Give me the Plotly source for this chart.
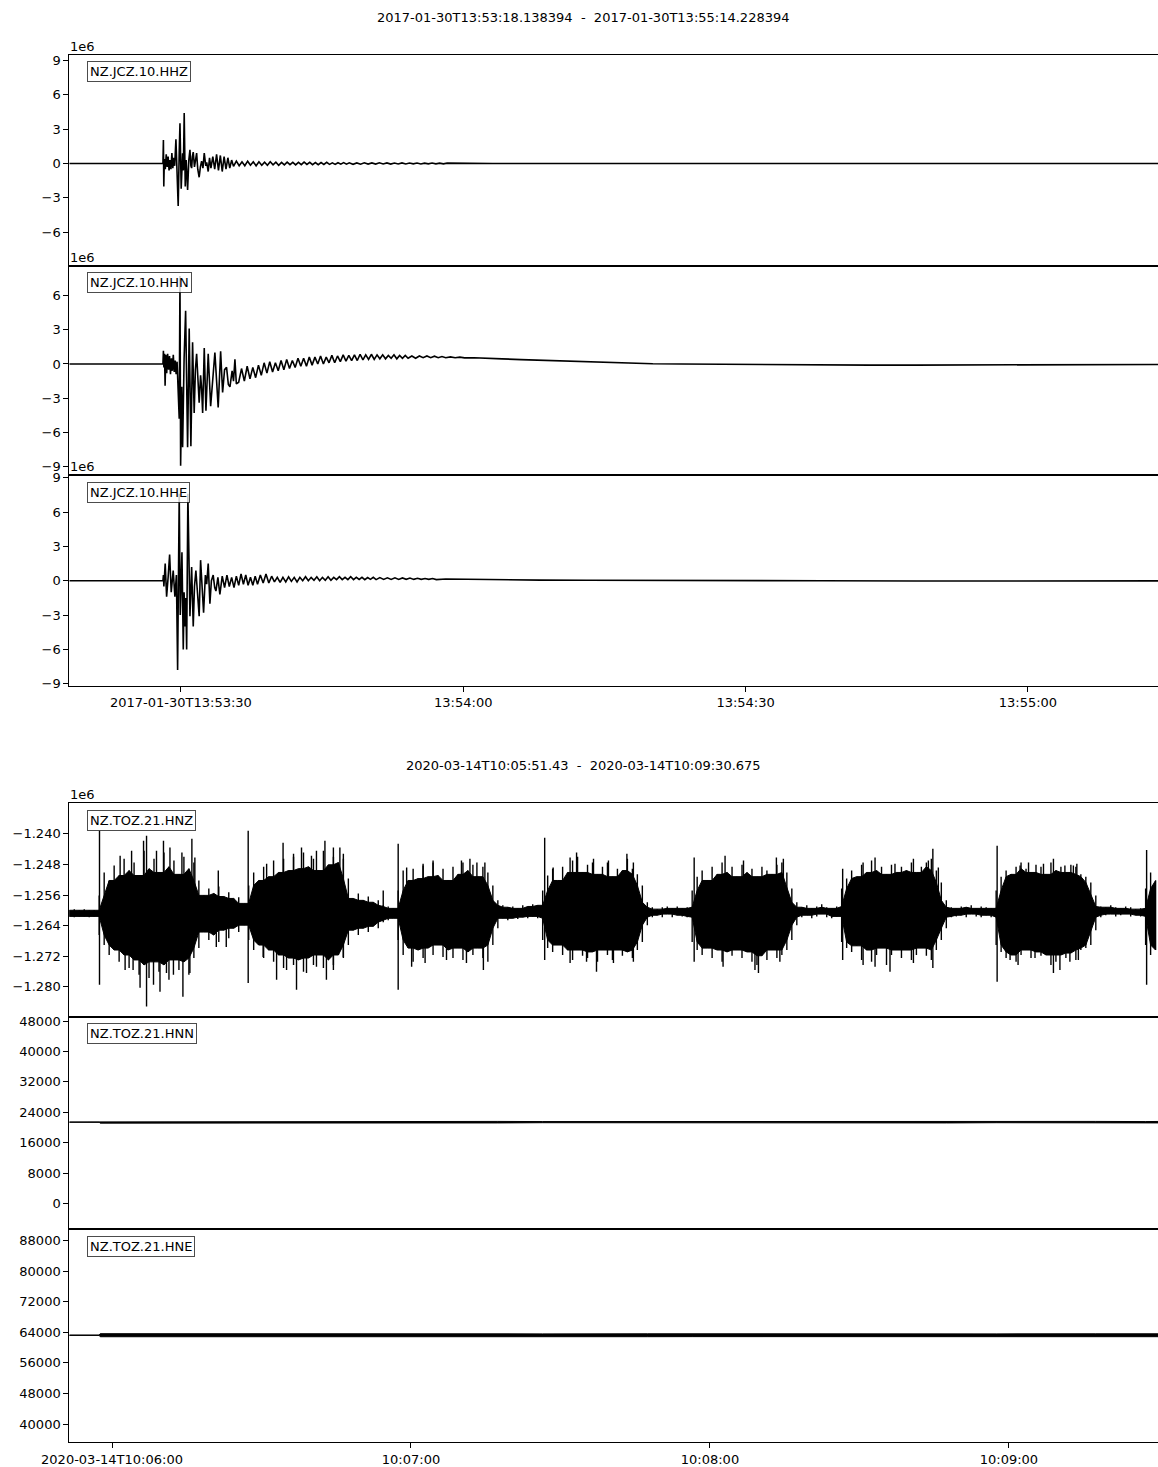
import numpy as np
import pandas as pd
import plotly.graph_objects as go
from datetime import datetime, timedelta

W, H = 1158, 1467

# ---------------- data ----------------
T0_TOP = datetime(2017, 1, 30, 13, 53, 18, 138394)
T0_BOT = datetime(2020, 3, 14, 10, 5, 51, 430000)
TOP_TITLE = "2017-01-30T13:53:18.138394  -  2017-01-30T13:55:14.228394"
BOT_TITLE = "2020-03-14T10:05:51.43  -  2020-03-14T10:09:30.675"
TOP_LABELS = ["NZ.JCZ.10.HHZ", "NZ.JCZ.10.HHN", "NZ.JCZ.10.HHE"]
BOT_LABELS = ["NZ.TOZ.21.HNZ", "NZ.TOZ.21.HNN", "NZ.TOZ.21.HNE"]

TOP_XTICKS = [datetime(2017, 1, 30, 13, 53, 30), datetime(2017, 1, 30, 13, 54, 0),
              datetime(2017, 1, 30, 13, 54, 30), datetime(2017, 1, 30, 13, 55, 0)]
TOP_XTEXT = ["2017-01-30T13:53:30", "13:54:00", "13:54:30", "13:55:00"]
BOT_XTICKS = [datetime(2020, 3, 14, 10, 6, 0), datetime(2020, 3, 14, 10, 7, 0),
              datetime(2020, 3, 14, 10, 8, 0), datetime(2020, 3, 14, 10, 9, 0)]
BOT_XTEXT = ["2020-03-14T10:06:00", "10:07:00", "10:08:00", "10:09:00"]

# JCZ traces: seconds after T0_TOP, amplitude in units of 1e6 counts
HHZ_T = [0, 9.95, 10.0, 10.04, 10.1, 10.2, 10.3, 10.4, 10.5, 10.6, 10.7, 10.8, 10.9, 11.0, 11.1, 11.2,
         11.33, 11.45, 11.57, 11.68, 11.76, 11.89, 12.0, 12.04, 12.12, 12.21, 12.32, 12.42, 12.5, 12.57,
         12.7, 12.82, 12.92, 13.0, 13.08, 13.17, 13.3, 13.4, 13.53, 13.65, 13.8, 13.93, 14.06, 14.2, 14.34,
         14.5, 14.6, 14.76, 14.9, 15.05, 15.25, 15.45, 15.65, 15.85, 16.05, 16.25, 16.45, 16.65, 16.85,
         17.05, 17.25, 17.45, 17.75, 18.05, 18.35, 18.65, 18.95, 19.25, 19.55, 19.85, 20.15, 20.45, 20.75,
         21.05, 21.35, 21.65, 21.95, 22.25, 22.55, 22.85, 23.15, 23.45, 23.75, 24.05, 24.35, 24.65, 24.95,
         25.25, 25.55, 25.85, 26.15, 26.45, 26.75, 27.05, 27.35, 27.65, 27.95, 28.25, 28.55, 28.85, 29.15,
         29.45, 29.75, 30.15, 30.55, 30.95, 31.35, 31.75, 32.15, 32.55, 32.95, 33.35, 33.75, 34.15, 34.55,
         34.95, 35.35, 35.75, 36.15, 36.55, 36.95, 37.35, 37.75, 38.15, 38.55, 38.95, 39.35, 39.75, 40.15,
         45.0, 116.1]
HHZ_V = [0, 0, 2.05, -2.0, 0.4, -0.5, 0.8, -0.3, 0.6, -0.6, 0.3, -0.5, 0.9, -0.4, 0.5, -0.2,
         2.1, -0.5, -3.7, 1.0, 3.5, -2.2, 0.2, 0.9, -0.6, 4.4, -2.0, 0.3, -1.0, -2.3,
         0.3, 1.2, -0.2, -0.4, 0.6, 1.0, -0.3, 0.2, 0.9, -0.5, -1.2, -0.3, 0.2, -0.4, 0.9,
         -0.2, 0.1, -0.7, 0.5, -0.4, 0.6, -0.5, 0.8, -0.6, 0.7, -0.7, 0.6, -0.5, 0.5,
         -0.4, 0.3, -0.25, 0.2, -0.2, 0.15, -0.2, 0.2, -0.15, 0.15, -0.2, 0.15, -0.15, 0.12,
         -0.15, 0.15, -0.12, 0.12, -0.15, 0.1, -0.12, 0.12, -0.1, 0.1, -0.12, 0.1, -0.1, 0.12,
         -0.08, 0.1, -0.1, 0.08, -0.1, 0.08, -0.08, 0.1, -0.08, 0.06, -0.08, 0.07, -0.06, 0.08,
         -0.06, 0.06, -0.07, 0.05, -0.06, 0.06, -0.05, 0.05, -0.05, 0.06, -0.04, 0.05, -0.05, 0.04,
         -0.04, 0.05, -0.04, 0.04, -0.03, 0.04, -0.04, 0.03, -0.03, 0.04, -0.03, 0.03, -0.03, 0.03,
         0.0, 0.0]

HHN_T = [0, 9.95, 10.0, 10.05, 10.12, 10.18, 10.26, 10.35, 10.45, 10.55, 10.65, 10.75, 10.85, 10.95,
         11.05, 11.15, 11.25, 11.35, 11.45, 11.55, 11.68, 11.76, 11.83, 11.95, 12.04, 12.2, 12.36, 12.57,
         12.74, 12.92, 13.1, 13.27, 13.4, 13.53, 13.8, 13.95, 14.05, 14.17, 14.34, 14.52, 14.76, 15.02,
         15.25, 15.47, 15.82, 16.08, 16.29, 16.5, 16.71, 16.9, 17.07, 17.3, 17.45, 17.6, 17.75,
         18.0, 18.3, 18.6, 18.9, 19.2, 19.5, 19.8, 20.1, 20.4, 20.7, 21.0, 21.3, 21.6, 21.9, 22.2, 22.5,
         22.8, 23.1, 23.4, 23.7, 24.0, 24.3, 24.6, 24.9, 25.2, 25.5, 25.8, 26.1, 26.4, 26.7, 27.0, 27.3,
         27.6, 27.9, 28.2, 28.5, 28.8, 29.1, 29.4, 29.7, 30.0, 30.3, 30.6, 30.9, 31.2, 31.5, 31.8, 32.1,
         32.4, 32.7, 33.0, 33.3, 33.6, 33.9, 34.2, 34.5, 34.8, 35.1, 35.4, 35.7, 36.0, 36.4, 36.8, 37.2,
         37.6, 38.0, 38.4, 38.8, 39.2, 39.6, 40.0, 40.5, 41.0, 41.5, 42.0, 43.0, 44.0, 46.0, 48.0, 50.0,
         52.0, 54.0, 56.0, 58.0, 60.0, 62.0, 65.0, 70.0, 75.0, 80.0, 85.0, 90.0, 95.0, 100.0, 105.0,
         110.0, 116.1]
HHN_V = [0, 0, 1.15, -0.3, 0.9, -1.9, 0.8, -0.8, 0.9, -0.5, 0.7, -0.9, 0.5, -0.6,
         0.8, -0.7, 0.3, -0.9, 0.2, -1.5, -4.8, 7.7, -8.9, -2.0, -7.3, 0.5, 4.65, -7.3,
         3.1, -7.2, 1.9, -4.3, -0.5, 0.9, -3.4, -1.0, -2.0, -4.3, 1.4, -4.1, 0.9, -3.7,
         -0.8, 1.0, -3.8, 1.1, -2.5, -0.5, -0.3, -1.8, -2.0, -0.6, -1.5, 0.4, -1.75,
         -1.6, -0.4, -1.5, -0.2, -1.3, -0.3, -1.2, -0.1, -1.0, 0.1, -0.8, 0.2, -0.7, 0.1, -0.6, 0.3,
         -0.5, 0.4, -0.4, 0.3, -0.3, 0.5, -0.2, 0.5, -0.2, 0.6, -0.1, 0.6, 0.0, 0.7, 0.0, 0.6,
         0.1, 0.75, 0.1, 0.7, 0.2, 0.8, 0.25, 0.75, 0.3, 0.8, 0.3, 0.85, 0.35, 0.8, 0.4, 0.85,
         0.4, 0.8, 0.45, 0.8, 0.45, 0.75, 0.5, 0.8, 0.45, 0.75, 0.5, 0.75, 0.5, 0.7, 0.5, 0.7,
         0.55, 0.7, 0.55, 0.68, 0.55, 0.65, 0.55, 0.62, 0.55, 0.6, 0.53, 0.55, 0.5, 0.45, 0.38, 0.32,
         0.26, 0.2, 0.15, 0.1, 0.05, 0.02, 0.0, -0.04, -0.06, -0.08, -0.1, -0.1, -0.09, -0.08, -0.06,
         -0.05, -0.04]

HHE_T = [0, 9.95, 10.0, 10.05, 10.19, 10.34, 10.5, 10.66, 10.83, 11.04, 11.22, 11.38, 11.51, 11.6,
         11.68, 11.79, 11.97, 12.11, 12.2, 12.29, 12.38, 12.47, 12.6, 12.82, 13.0, 13.17, 13.3, 13.45,
         13.62, 13.8, 13.95, 14.1, 14.27, 14.46, 14.6, 14.76, 14.94, 15.1, 15.29, 15.45, 15.58, 15.79,
         16.0, 16.25, 16.5, 16.75, 17.0, 17.25, 17.5, 17.75, 18.0, 18.25, 18.5, 18.75, 19.0, 19.25, 19.5,
         19.75, 20.0, 20.3, 20.6, 20.9, 21.2, 21.5, 21.8, 22.1, 22.4, 22.7, 23.0, 23.3, 23.6, 23.9, 24.2,
         24.5, 24.8, 25.1, 25.4, 25.7, 26.0, 26.3, 26.6, 26.9, 27.2, 27.5, 27.8, 28.1, 28.4, 28.7, 29.0,
         29.3, 29.6, 29.9, 30.2, 30.5, 30.8, 31.1, 31.4, 31.7, 32.0, 32.3, 32.6, 33.0, 33.4, 33.8, 34.2,
         34.6, 35.0, 35.4, 35.8, 36.2, 36.6, 37.0, 37.4, 37.8, 38.2, 38.6, 39.0, 40.0, 42.0, 45.0, 50.0,
         55.0, 60.0, 70.0, 80.0, 90.0, 100.0, 116.1]
HHE_V = [0, 0, 0.5, -0.5, 1.5, -1.4, 0.3, 2.3, -1.0, 0.9, -1.4, 0.5, -7.8, -1.0,
         7.6, -3.0, 2.5, -6.0, -1.0, -4.0, -1.5, -6.0, 7.6, -3.1, 1.2, -4.0, -0.5, 0.9,
         -1.0, -3.1, 1.8, -0.5, -2.8, 0.5, -0.3, 1.5, -2.0, 0.0, 0.5, -0.6, -0.9, 0.3,
         -1.2, 0.4, -0.6, 0.5, -0.5, 0.3, -0.6, 0.4, -0.4, 0.6, -0.3, 0.5, -0.4, 0.3, -0.4,
         0.4, -0.3, 0.5, -0.2, 0.6, -0.2, 0.4, -0.1, 0.3, -0.15, 0.3, -0.1, 0.35, -0.05, 0.3, -0.1,
         0.3, 0.0, 0.35, 0.0, 0.3, 0.05, 0.35, 0.0, 0.3, 0.05, 0.35, 0.05, 0.3, 0.1, 0.35, 0.1,
         0.3, 0.1, 0.35, 0.1, 0.3, 0.12, 0.3, 0.1, 0.28, 0.12, 0.3, 0.1, 0.28, 0.12, 0.26, 0.12,
         0.26, 0.12, 0.25, 0.13, 0.24, 0.12, 0.22, 0.12, 0.2, 0.12, 0.2, 0.1, 0.15, 0.12, 0.1, 0.06,
         0.04, 0.02, 0.0, 0.0, -0.02, -0.02, -0.01]

# TOZ HNZ: per-second max / min (units of 1e6 counts), one value per second after T0_BOT
HNZ_MAX = [
    -1.2600, -1.2597, -1.2600, -1.2597, -1.2600, -1.2600, -1.2561, -1.2501, -1.2522, -1.2483,
    -1.2509, -1.2465, -1.2496, -1.2475, -1.2509, -1.2444, -1.2491, -1.2465, -1.2501, -1.2449,
    -1.2486, -1.2470, -1.2506, -1.2460, -1.2491, -1.2475, -1.2522, -1.2561, -1.2543, -1.2556,
    -1.2538, -1.2564, -1.2553, -1.2569, -1.2566, -1.2582, -1.2535, -1.2501, -1.2522, -1.2486,
    -1.2512, -1.2470, -1.2501, -1.2465, -1.2496, -1.2460, -1.2491, -1.2449, -1.2486, -1.2465,
    -1.2496, -1.2444, -1.2481, -1.2460, -1.2475, -1.2465, -1.2517, -1.2569, -1.2556, -1.2574,
    -1.2564, -1.2579, -1.2574, -1.2587, -1.2590, -1.2595, -1.2548, -1.2496, -1.2522, -1.2491,
    -1.2517, -1.2483, -1.2512, -1.2475, -1.2509, -1.2491, -1.2522, -1.2486, -1.2506, -1.2475,
    -1.2496, -1.2481, -1.2512, -1.2486, -1.2501, -1.2535, -1.2574, -1.2587, -1.2592, -1.2590,
    -1.2595, -1.2587, -1.2590, -1.2584, -1.2587, -1.2548, -1.2509, -1.2491, -1.2522, -1.2486,
    -1.2501, -1.2470, -1.2460, -1.2501, -1.2481, -1.2475, -1.2506, -1.2486, -1.2475, -1.2512,
    -1.2491, -1.2496, -1.2465, -1.2491, -1.2506, -1.2535, -1.2579, -1.2592, -1.2597, -1.2592,
    -1.2590, -1.2595, -1.2590, -1.2595, -1.2592, -1.2548, -1.2512, -1.2496, -1.2522, -1.2486,
    -1.2506, -1.2475, -1.2501, -1.2486, -1.2512, -1.2481, -1.2501, -1.2491, -1.2512, -1.2486,
    -1.2496, -1.2506, -1.2481, -1.2475, -1.2501, -1.2543, -1.2579, -1.2592, -1.2587, -1.2595,
    -1.2590, -1.2584, -1.2592, -1.2595, -1.2590, -1.2543, -1.2517, -1.2496, -1.2512, -1.2481,
    -1.2501, -1.2470, -1.2496, -1.2486, -1.2506, -1.2481, -1.2501, -1.2486, -1.2496, -1.2475,
    -1.2501, -1.2486, -1.2475, -1.2465, -1.2496, -1.2527, -1.2574, -1.2592, -1.2595, -1.2590,
    -1.2592, -1.2587, -1.2595, -1.2590, -1.2592, -1.2595, -1.2548, -1.2512, -1.2496, -1.2506,
    -1.2486, -1.2475, -1.2491, -1.2501, -1.2481, -1.2486, -1.2506, -1.2475, -1.2496, -1.2486,
    -1.2501, -1.2481, -1.2486, -1.2506, -1.2512, -1.2527, -1.2561, -1.2590, -1.2592, -1.2587,
    -1.2592, -1.2595, -1.2590, -1.2592, -1.2597, -1.2595, -1.2543, -1.2501, -1.2522]
HNZ_MIN = [
    -1.2616, -1.2618, -1.2616, -1.2616, -1.2618, -1.2616, -1.2665, -1.2691, -1.2717, -1.2704,
    -1.2735, -1.2717, -1.2751, -1.2730, -1.2769, -1.2743, -1.2777, -1.2735, -1.2761, -1.2743,
    -1.2782, -1.2730, -1.2756, -1.2735, -1.2769, -1.2725, -1.2699, -1.2657, -1.2678, -1.2665,
    -1.2683, -1.2652, -1.2673, -1.2647, -1.2657, -1.2639, -1.2678, -1.2704, -1.2691, -1.2725,
    -1.2704, -1.2735, -1.2717, -1.2751, -1.2725, -1.2743, -1.2730, -1.2761, -1.2725, -1.2743,
    -1.2717, -1.2751, -1.2730, -1.2743, -1.2717, -1.2725, -1.2691, -1.2652, -1.2665, -1.2647,
    -1.2657, -1.2642, -1.2647, -1.2631, -1.2626, -1.2621, -1.2678, -1.2717, -1.2699, -1.2735,
    -1.2704, -1.2725, -1.2699, -1.2717, -1.2691, -1.2722, -1.2704, -1.2725, -1.2699, -1.2730,
    -1.2709, -1.2717, -1.2699, -1.2725, -1.2735, -1.2691, -1.2647, -1.2621, -1.2626, -1.2621,
    -1.2623, -1.2618, -1.2621, -1.2616, -1.2621, -1.2678, -1.2699, -1.2709, -1.2691, -1.2717,
    -1.2704, -1.2730, -1.2704, -1.2719, -1.2725, -1.2709, -1.2735, -1.2704, -1.2717, -1.2730,
    -1.2704, -1.2719, -1.2709, -1.2725, -1.2704, -1.2683, -1.2639, -1.2618, -1.2613, -1.2618,
    -1.2610, -1.2618, -1.2613, -1.2616, -1.2618, -1.2683, -1.2704, -1.2717, -1.2699, -1.2725,
    -1.2704, -1.2735, -1.2709, -1.2719, -1.2704, -1.2725, -1.2709, -1.2735, -1.2743, -1.2719,
    -1.2730, -1.2704, -1.2725, -1.2717, -1.2704, -1.2678, -1.2639, -1.2618, -1.2613, -1.2621,
    -1.2616, -1.2610, -1.2618, -1.2621, -1.2616, -1.2683, -1.2699, -1.2709, -1.2693, -1.2730,
    -1.2704, -1.2735, -1.2717, -1.2699, -1.2743, -1.2717, -1.2704, -1.2725, -1.2704, -1.2730,
    -1.2717, -1.2699, -1.2719, -1.2730, -1.2704, -1.2678, -1.2647, -1.2618, -1.2616, -1.2613,
    -1.2618, -1.2610, -1.2616, -1.2618, -1.2613, -1.2618, -1.2691, -1.2709, -1.2725, -1.2717,
    -1.2735, -1.2717, -1.2704, -1.2725, -1.2709, -1.2719, -1.2717, -1.2743, -1.2735, -1.2717,
    -1.2725, -1.2712, -1.2730, -1.2704, -1.2699, -1.2691, -1.2652, -1.2618, -1.2613, -1.2610,
    -1.2616, -1.2613, -1.2610, -1.2616, -1.2613, -1.2616, -1.2691, -1.2717, -1.2704]

# HNZ isolated spikes (seconds after T0_BOT, peak value in 1e6 counts)
HNZ_UP_T = [6.06, 10.2, 12.5, 14.9, 15.5, 17.5, 18.9, 20.2, 22.6, 24.6, 25.2, 29.9,
            35.9, 39.6, 42.9, 45.0, 46.6, 48.6, 49.6, 51.3, 53.0, 54.3, 55.0, 63.0,
            66.0, 67.7, 71.0, 73.0, 78.7, 80.4, 81.8, 83.4,
            95.4, 97.1, 100.5, 101.8, 105.2, 108.2, 111.9, 113.2,
            125.4, 131.6, 135.3, 141.9, 143.3,
            155.2, 159.3, 161.7, 165.7, 169.4, 172.4, 173.3, 174.4,
            186.2, 190.8, 192.5, 195.5, 197.5, 199.8, 201.5, 202.2, 216.2]
HNZ_UP_V = [-1.2392, -1.2457, -1.2444, -1.2418, -1.2405, -1.2444, -1.2418, -1.2436, -1.2449, -1.2413, -1.2462, -1.2496,
            -1.2392, -1.2478, -1.2423, -1.2452, -1.2436, -1.2457, -1.2444, -1.2418, -1.2436, -1.2436, -1.2452, -1.2548,
            -1.2426, -1.2488, -1.2478, -1.2470, -1.2470, -1.2465, -1.2475, -1.2475,
            -1.2410, -1.2488, -1.2462, -1.2449, -1.2465, -1.2470, -1.2452, -1.2475,
            -1.2462, -1.2457, -1.2470, -1.2462, -1.2465,
            -1.2491, -1.2475, -1.2462, -1.2478, -1.2465, -1.2470, -1.2439, -1.2488,
            -1.2431, -1.2483, -1.2475, -1.2478, -1.2465, -1.2483, -1.2483, -1.2478, -1.2442]
HNZ_DN_T = [6.06, 11.2, 12.8, 14.2, 15.5, 16.9, 18.2, 19.5, 20.9, 22.8, 24.2, 29.5, 31.5,
            35.9, 38.9, 41.6, 43.6, 45.6, 47.6, 49.6, 51.6, 53.0, 55.0,
            66.0, 68.7, 71.4, 75.7, 79.7, 83.1,
            95.4, 100.5, 103.8, 105.8, 109.2, 113.2,
            125.4, 131.2, 137.6, 138.3, 142.6,
            155.2, 159.3, 161.7, 164.7, 169.4, 173.3,
            186.2, 188.8, 190.4, 193.8, 197.5, 198.8, 200.8, 202.5, 216.2]
HNZ_DN_V = [-1.2795, -1.2756, -1.2756, -1.2803, -1.2852, -1.2795, -1.2813, -1.2764, -1.2769, -1.2826, -1.2764, -1.2696, -1.2696,
            -1.2790, -1.2722, -1.2782, -1.2756, -1.2808, -1.2764, -1.2748, -1.2782, -1.2756, -1.2722,
            -1.2808, -1.2748, -1.2738, -1.2730, -1.2738, -1.2756,
            -1.2730, -1.2738, -1.2735, -1.2761, -1.2738, -1.2735,
            -1.2735, -1.2748, -1.2756, -1.2764, -1.2735,
            -1.2730, -1.2743, -1.2748, -1.2761, -1.2738, -1.2751,
            -1.2787, -1.2730, -1.2743, -1.2725, -1.2764, -1.2756, -1.2735, -1.2730, -1.2795]

# HNN / HNE envelopes (counts)
HNN_T = [0, 6.0, 6.2, 26, 36, 56, 66, 86, 95, 116, 125, 146, 155, 176, 186, 206, 216, 219.2]
HNN_MAX = [21460, 21470, 21650, 21680, 21620, 21650, 21620, 21600, 21560, 21600, 21560, 21600, 21560, 21600, 21560, 21600, 21560, 21600]
HNN_MIN = [21370, 21360, 21150, 21120, 21180, 21150, 21200, 21200, 21260, 21200, 21260, 21200, 21260, 21200, 21260, 21200, 21260, 21200]
HNE_T = [0, 6.0, 6.2, 26, 36, 56, 66, 86, 95, 116, 125, 146, 155, 176, 186, 206, 216, 219.2]
HNE_MAX = [63300, 63300, 63650, 63680, 63600, 63650, 63620, 63600, 63600, 63620, 63600, 63620, 63600, 63620, 63600, 63620, 63600, 63620]
HNE_MIN = [63200, 63200, 62850, 62820, 62880, 62850, 62860, 62880, 62880, 62860, 62880, 62860, 62880, 62860, 62880, 62860, 62880, 62860]

YTICKS = {
    1: [-6, -3, 0, 3, 6, 9],
    2: [-9, -6, -3, 0, 3, 6],
    3: [-9, -6, -3, 0, 3, 6, 9],
    4: [-1.280, -1.272, -1.264, -1.256, -1.248, -1.240],
    5: [0, 8000, 16000, 24000, 32000, 40000, 48000],
    6: [40000, 48000, 56000, 64000, 72000, 80000, 88000],
}
YRANGE = {1: [-8.89, 9.50], 2: [-9.72, 8.62], 3: [-9.15, 9.24],
          4: [-1.2878, -1.2320], 5: [-6700, 49200], 6: [35290, 91060]}

# ---------------- layout helpers ----------------
FONT = "DejaVu Sans"
PANEL_PX = {1: (54.5, 265.5), 2: (265.5, 475), 3: (475, 685.5),
            4: (803.3, 1016.5), 5: (1016.5, 1229), 6: (1229, 1442)}
X_LEFT = 69.3


def yfrac(p):
    return 1 - p / H


def tsec(t0, secs):
    return [t0 + timedelta(seconds=float(s)) for s in secs]


def fmt(v, i):
    if i == 4:
        s = f"{v:.3f}"
    else:
        s = f"{int(v)}" if float(v).is_integer() else f"{v:g}"
    return s.replace("-", "\u2212")


def ax(i):
    return ("x" if i == 1 else f"x{i}"), ("y" if i == 1 else f"y{i}")


fig = go.Figure()
LINE = dict(color="black", width=1.6)

for i, (T, V) in zip([1, 2, 3], [(HHZ_T, HHZ_V), (HHN_T, HHN_V), (HHE_T, HHE_V)]):
    xa, ya = ax(i)
    fig.add_trace(go.Scatter(x=tsec(T0_TOP, T), y=V, mode="lines", line=LINE,
                             xaxis=xa, yaxis=ya, hoverinfo="skip"))

# HNZ: solid core (neighbourhood envelope) + per-second min-max bars + isolated spikes
xa, ya = ax(4)
tt = tsec(T0_BOT, range(len(HNZ_MAX)))
mx = pd.Series(HNZ_MAX)
mn = pd.Series(HNZ_MIN)
core_top = mx.rolling(3, center=True, min_periods=1).min()
core_bot = mn.rolling(3, center=True, min_periods=1).max()
fig.add_trace(go.Scatter(x=tt, y=core_top, mode="lines", line=dict(color="black", width=1),
                         xaxis=xa, yaxis=ya, hoverinfo="skip"))
fig.add_trace(go.Scatter(x=tt, y=core_bot, mode="lines", line=dict(color="black", width=1),
                         fill="tonexty", fillcolor="black", xaxis=xa, yaxis=ya, hoverinfo="skip"))
bx, by = [], []
for d, a, b in zip(tt, HNZ_MIN, HNZ_MAX):
    bx += [d, d, None]
    by += [a, b, None]
fig.add_trace(go.Scatter(x=bx, y=by, mode="lines", line=dict(color="black", width=1.4),
                         xaxis=xa, yaxis=ya, hoverinfo="skip"))
base = float(np.median((np.array(HNZ_MAX) + np.array(HNZ_MIN)) / 2))
sx, sy = [], []
for T, V in [(HNZ_UP_T, HNZ_UP_V), (HNZ_DN_T, HNZ_DN_V)]:
    for t, v in zip(T, V):
        d = T0_BOT + timedelta(seconds=t)
        sx += [d, d, None]
        sy += [base, v, None]
fig.add_trace(go.Scatter(x=sx, y=sy, mode="lines", line=dict(color="black", width=1.4),
                         xaxis=xa, yaxis=ya, hoverinfo="skip"))

for i, (T, MX, MN) in zip([5, 6], [(HNN_T, HNN_MAX, HNN_MIN), (HNE_T, HNE_MAX, HNE_MIN)]):
    xa, ya = ax(i)
    fig.add_trace(go.Scatter(x=tsec(T0_BOT, T), y=MX, mode="lines", line=dict(color="black", width=1),
                             xaxis=xa, yaxis=ya, hoverinfo="skip"))
    fig.add_trace(go.Scatter(x=tsec(T0_BOT, T), y=MN, mode="lines", line=dict(color="black", width=1),
                             fill="tonexty", fillcolor="black", xaxis=xa, yaxis=ya, hoverinfo="skip"))

layout = dict(width=W, height=H, margin=dict(l=0, r=0, t=0, b=0, pad=0), autosize=False,
              paper_bgcolor="white", plot_bgcolor="white", showlegend=False,
              font=dict(family=FONT, size=13, color="black"))

top_range = [T0_TOP, T0_TOP + timedelta(seconds=(W - X_LEFT) / 9.411)]
bot_range = [T0_BOT, T0_BOT + timedelta(seconds=(W - X_LEFT) / 4.983)]

for i in range(1, 7):
    xa, ya = ax(i)
    xkey = "xaxis" if i == 1 else f"xaxis{i}"
    ykey = "yaxis" if i == 1 else f"yaxis{i}"
    top, bot = PANEL_PX[i]
    xd = dict(type="date", domain=[X_LEFT / W, 1], anchor=ya, showline=True, mirror=True,
              linecolor="black", linewidth=1, showgrid=False, zeroline=False, automargin=False,
              range=top_range if i <= 3 else bot_range)
    if i in (3, 6):
        xd.update(ticks="outside", ticklen=5, tickwidth=1, tickcolor="black",
                  tickvals=TOP_XTICKS if i == 3 else BOT_XTICKS,
                  ticktext=TOP_XTEXT if i == 3 else BOT_XTEXT,
                  tickfont=dict(family=FONT, size=13, color="black"))
    else:
        xd.update(showticklabels=False, ticks="")
    if i not in (1, 4):
        xd["matches"] = "x" if i <= 3 else "x4"
    layout[xkey] = xd
    layout[ykey] = dict(domain=[yfrac(bot), yfrac(top)], anchor=xa, range=YRANGE[i],
                        showline=True, mirror=False, linecolor="black", linewidth=1,
                        showgrid=False, zeroline=False, automargin=False, ticks="outside", ticklen=5,
                        tickwidth=1, tickcolor="black", tickvals=YTICKS[i],
                        ticktext=[fmt(v, i) for v in YTICKS[i]],
                        tickfont=dict(family=FONT, size=13, color="black"))

ann = []
NB = "\u00a0"
ann.append(dict(text=TOP_TITLE.replace(" ", NB), x=583 / W, y=yfrac(17), xref="paper", yref="paper",
                xanchor="center", yanchor="middle", showarrow=False, font=dict(size=13)))
ann.append(dict(text=BOT_TITLE.replace(" ", NB), x=583 / W, y=yfrac(765), xref="paper", yref="paper",
                xanchor="center", yanchor="middle", showarrow=False, font=dict(size=13)))
for i in (1, 2, 3, 4):
    ann.append(dict(text="1e6", x=X_LEFT / W, y=yfrac(PANEL_PX[i][0]), xref="paper", yref="paper",
                    xanchor="left", yanchor="bottom", showarrow=False, borderpad=0,
                    font=dict(size=13)))
for i, lab in zip(range(1, 7), TOP_LABELS + BOT_LABELS):
    ann.append(dict(text=lab, x=87 / W, y=yfrac(PANEL_PX[i][0] + 6.5), xref="paper", yref="paper",
                    xanchor="left", yanchor="top", showarrow=False,
                    bgcolor="rgba(255,255,255,0.8)", bordercolor="rgba(0,0,0,0.7)",
                    borderwidth=1, borderpad=2, font=dict(size=13)))
layout["annotations"] = ann

fig.update_layout(**layout)
fig.write_html("out.html", config={"displayModeBar": False},
               post_script="document.body.style.margin='0px';document.body.style.overflow='hidden';")
